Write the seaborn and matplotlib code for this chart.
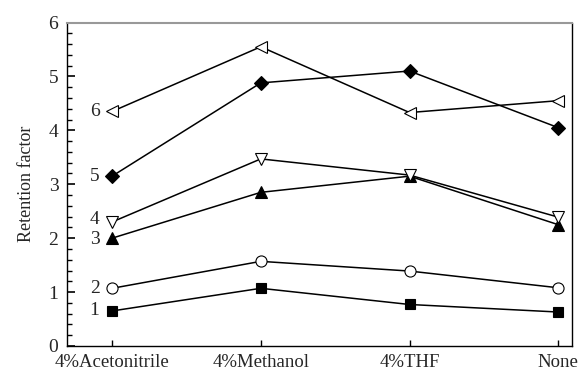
import numpy as np
import pandas as pd
import matplotlib
matplotlib.use("Agg")
import matplotlib.pyplot as plt
import seaborn as sns
from matplotlib.ticker import MultipleLocator

solvents = ['4%Acetonitrile', '4%Methanol', '4%THF', 'None']
k1 = [0.65, 1.07, 0.77, 0.63]
k2 = [1.07, 1.57, 1.39, 1.08]
k3 = [2.00, 2.85, 3.15, 2.25]
k4 = [2.30, 3.47, 3.17, 2.39]
k5 = [3.15, 4.88, 5.10, 4.05]
k6 = [4.35, 5.55, 4.33, 4.55]
labels = ['1', '2', '3', '4', '5', '6']

sns.set_style("ticks")
plt.rcParams['font.family'] = ['Liberation Serif', 'DejaVu Serif']
plt.rcParams['ytick.minor.visible'] = True

fig = plt.figure(figsize=(5.78, 3.72), dpi=100)
ax = fig.add_axes([0.1154, 0.0699, 0.989 - 0.1154, 0.9395 - 0.0699])

series = [k1, k2, k3, k4, k5, k6]
markers = ['s', 'o', '^', 'v', 'D', '<']
faces = ['black', 'white', 'black', 'white', 'black', 'white']
sizes = [7, 8, 8, 9, 7, 9]
xpos = np.arange(len(solvents))

for vals, lab, m, fc, ms in zip(series, labels, markers, faces, sizes):
    df = pd.DataFrame({'x': xpos, 'k': vals})
    sns.lineplot(data=df, x='x', y='k', ax=ax, color='black', lw=1.1,
                 marker=m, markersize=ms, markerfacecolor=fc,
                 markeredgecolor='black', markeredgewidth=0.8)
    dy = 0
    if lab == '4':
        dy = 2
    if lab == '3':
        dy = -1
    ax.annotate(lab, (xpos[0], vals[0]), xytext=(-9, dy), textcoords='offset points',
                ha='right', va='center', fontsize=14)

ax.set_xlim(-0.305, 3.09)
ax.set_ylim(0, 6)
ax.set_xticks(xpos)
ax.set_xticklabels(solvents, fontsize=13.5)
ax.yaxis.set_major_locator(MultipleLocator(1))
ax.yaxis.set_minor_locator(MultipleLocator(0.2))
ax.tick_params(axis='y', which='major', direction='in', length=6, width=1.2,
               labelsize=14, left=True, right=False, color='black', pad=6)
ax.tick_params(axis='y', which='minor', direction='in', length=3.5, width=1.0,
               left=True, right=False, color='black')
ax.tick_params(axis='x', which='major', direction='in', length=4, width=1.0,
               bottom=True, top=False, pad=5.5, color='black')
ax.set_xlabel('')
ax.set_ylabel('Retention factor', fontsize=13, labelpad=10)

for s in ['left', 'bottom', 'right']:
    ax.spines[s].set_visible(True)
    ax.spines[s].set_color('black')
    ax.spines[s].set_linewidth(1.0)
ax.spines['top'].set_visible(True)
ax.spines['top'].set_color('#999999')
ax.spines['top'].set_linewidth(1.5)

fig.savefig('out.png', dpi=100)
